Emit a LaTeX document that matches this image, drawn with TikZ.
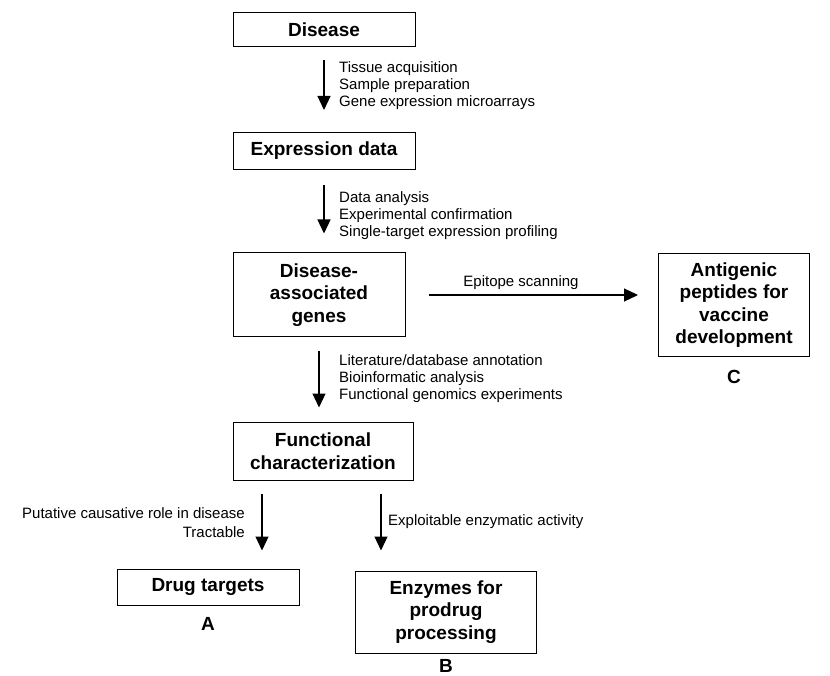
\documentclass[tikz,border=0pt]{standalone}
\usepackage{fontspec}
\setmainfont{Liberation Sans}
\usetikzlibrary{arrows.meta}

\begin{document}
\begin{tikzpicture}[x=1pt, y=-1pt,
  box/.style={draw, line width=1pt, inner sep=0pt, minimum width=182pt, align=center, font=\fontsize{19}{22.5}\selectfont\bfseries},
  arrow/.style={-{Triangle[length=14pt,width=13pt]}, line width=1.2pt},
  note/.style={inner sep=0pt, font=\fontsize{15}{17}\selectfont},
  tag/.style={inner sep=0pt, font=\fontsize{19}{22}\selectfont\bfseries}
]
\useasboundingbox (0,0) rectangle (830,676);

% main chain
\node[box, minimum height=34pt] (dis) at (324,30) {Disease};
\node[box, minimum height=37pt] (expr) at (324,151) {Expression data};
\node[box, minimum width=172pt, minimum height=84pt] (dag) at (319,295) {Disease-\\associated\\genes};
\node[box, minimum width=151pt, minimum height=103pt] (ant) at (734,305) {Antigenic\\peptides for\\vaccine\\development};
\node[box, minimum width=180pt, minimum height=58pt] (func) at (323,451) {Functional\\characterization};
\node[box, minimum height=36pt] (drug) at (208,587) {Drug targets};
\node[box, minimum width=181pt, minimum height=82pt] (enz) at (446,612) {Enzymes for\\prodrug\\processing};

% outcome letters
\node[tag] (tagA) at (208,624) {A};
\node[tag] (tagB) at (446,666) {B};
\node[tag] (tagC) at (734,377) {C};

% arrows
\draw[arrow, shorten <=13pt, shorten >=22pt] (dis) -- (expr);
\draw[arrow, shorten <=15pt, shorten >=19pt] (expr) -- (expr |- dag.north);
\draw[arrow, shorten <=13pt, shorten >=14pt] (dag.south) -- (dag.south |- func.north);
\draw[arrow, shorten <=23pt, shorten >=20pt] (dag.east) -- (dag.east -| ant.west);
\draw[arrow, shorten <=13pt, shorten >=18pt] ([xshift=-61]func.south) -- ([xshift=-61]func.south |- drug.north);
\draw[arrow, shorten <=13pt, shorten >=20pt] ([xshift=58]func.south) -- ([xshift=58]func.south |- enz.north);

% arrow notes
\node[note, anchor=west, align=left] (n1) at (339,86) {Tissue acquisition\\Sample preparation\\Gene expression microarrays};
\node[note, anchor=west, align=left] (n2) at (339,216) {Data analysis\\Experimental confirmation\\Single-target expression profiling};
\node[note, anchor=west, align=left] (n3) at (339,379) {Literature/database annotation\\Bioinformatic analysis\\Functional genomics experiments};
\node[note] (n4) at (521,283) {Epitope scanning};
\node[note, anchor=east, align=right] (n5) at (245,523) {Putative causative role in disease\\[2pt]Tractable};
\node[note, anchor=west] (n6) at (388,522) {Exploitable enzymatic activity};
\end{tikzpicture}
\end{document}
